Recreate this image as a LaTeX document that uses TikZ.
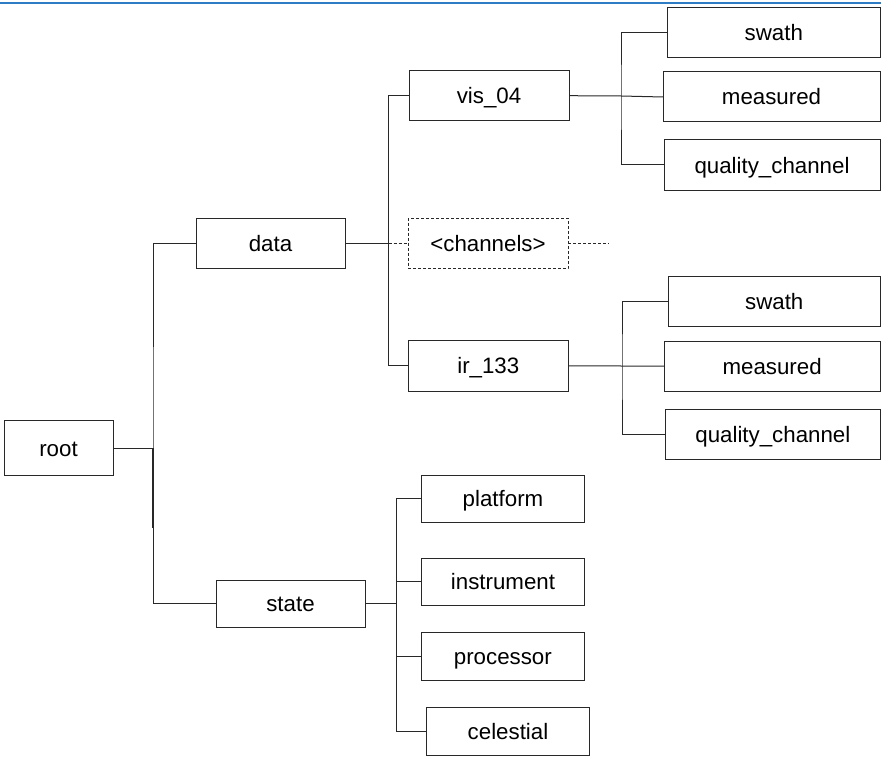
\documentclass[tikz,border=0pt]{standalone}
\usepackage{fontspec}
\setmainfont{Liberation Sans}
\definecolor{lineC}{RGB}{40,40,40}
\definecolor{topblue}{RGB}{46,125,196}
\tikzset{
  box/.style={draw=lineC, line width=1pt, inner sep=0pt, outer sep=0pt,
    font=\fontsize{22.3}{26}\selectfont, text height=16pt, text depth=0pt},
  dbox/.style={box, dash pattern=on 3pt off 2pt},
  conn/.style={draw=lineC, line width=1pt},
  dconn/.style={conn, dash pattern=on 3pt off 2pt}
}
\begin{document}
\begin{tikzpicture}[x=1pt,y=-1pt]
\useasboundingbox (0,0) rectangle (881,757);
\fill[white] (0,0) rectangle (881,757);
\draw[topblue, line width=2pt] (0,3) -- (881,3);

% nodes
\node[box, minimum width=109pt, minimum height=54.5pt] (root) at (58.5,448.2) {root};
\node[box, minimum width=149pt, minimum height=49.3pt] (data) at (270.5,243.6) {data};
\node[box, minimum width=149pt, minimum height=47pt] (state) at (290.5,603.5) {state};

\node[box, minimum width=160pt, minimum height=50pt] (vis) at (489,95.7) {vis\_04};
\node[dbox, minimum width=160pt, minimum height=50.7pt] (ch) at (488,243.6) {<channels>};
\node[box, minimum width=160pt, minimum height=50.3pt] (ir) at (488.3,365.9) {ir\_133};

\node[box, minimum width=212.3pt, minimum height=50pt] (sw1) at (773.85,32.3) {swath};
\node[box, minimum width=217pt, minimum height=50pt] (me1) at (771.5,97) {measured};
\node[box, minimum width=216pt, minimum height=50pt] (qc1) at (772,165) {quality\_channel};

\node[box, minimum width=211.5pt, minimum height=50.7pt] (sw2) at (774.25,301.35) {swath};
\node[box, minimum width=215.7pt, minimum height=50pt] (me2) at (772.15,366) {measured};
\node[box, minimum width=214.3pt, minimum height=50.3pt] (qc2) at (772.85,434.15) {quality\_channel};

\node[box, minimum width=162.6pt, minimum height=47.3pt] (plat) at (503,498.65) {platform};
\node[box, minimum width=162.6pt, minimum height=46.7pt] (inst) at (503,581.65) {instrument};
\node[box, minimum width=162.3pt, minimum height=47.3pt] (proc) at (502.85,656.35) {processor};
\node[box, minimum width=162.6pt, minimum height=47.7pt] (cel) at (508,731.15) {celestial};

% bus points
\coordinate (rb) at (153,448.2);
\coordinate (rbo) at (153,528);
\coordinate (db) at (388.5,243.6);
\coordinate (vb) at (621,96);
\coordinate (ib) at (622,366);
\coordinate (sb) at (396.5,603.5);
\coordinate (chend) at (609,243.6);

% root
\draw[conn] (root.east) -- (rb);
\draw[conn] (data.west) -| (rb) |- (state.west);
\draw[lineC, line width=1.6pt] (rb) -- (rbo);

% data
\draw[conn] (data.east) -- (db);
\draw[conn] (vis.west) -| (db) |- (ir.west);
\draw[dconn] (db) -- (ch.west);
\draw[dconn] (ch.east) -- (chend);

% vis
\draw[conn] (vis.east) -- (vb) -- (me1.west);
\draw[conn] (sw1.west) -| (vb) |- (qc1.west);

% ir
\draw[conn] (ir.east) -- (ib) -- (me2.west);
\draw[conn] (sw2.west) -| (ib) |- (qc2.west);

% state
\draw[conn] (state.east) -- (sb);
\draw[conn] (plat.west) -| (sb) |- (cel.west);
\draw[conn] (inst.west) -- (inst.west -| sb);
\draw[conn] (proc.west) -- (proc.west -| sb);
\end{tikzpicture}
\end{document}
